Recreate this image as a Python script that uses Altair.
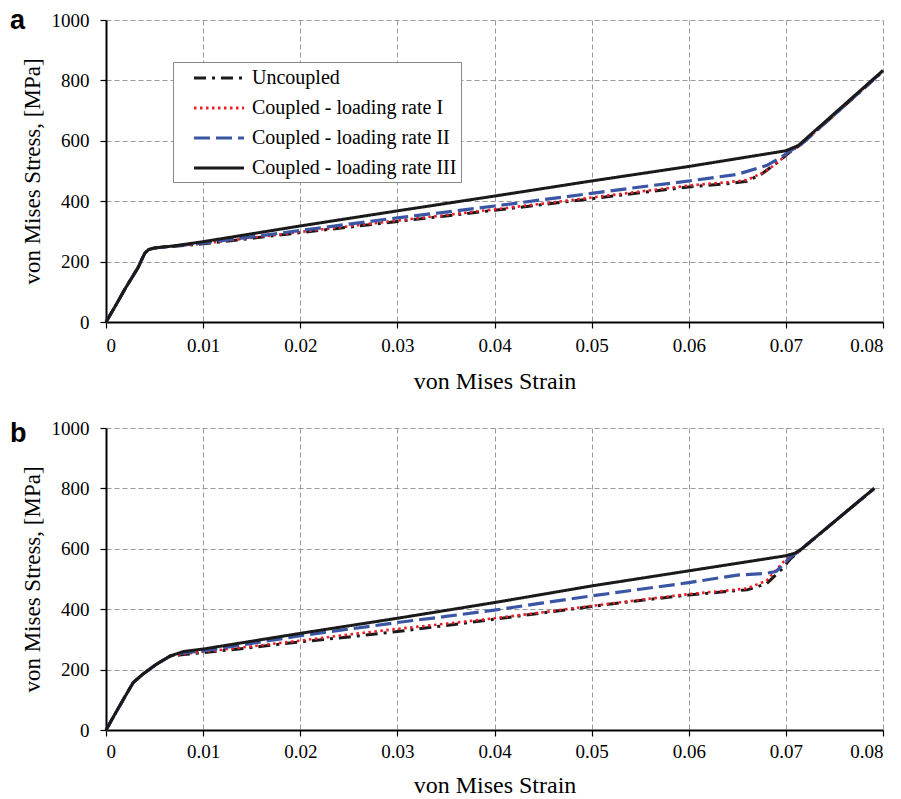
import altair as alt
import pandas as pd

SERIES = ["Uncoupled", "Coupled - loading rate I", "Coupled - loading rate II", "Coupled - loading rate III"]
COLORS = ["#1a1a1a", "#ee1c25", "#3a55a4", "#1a1a1a"]
DASHES = [[12, 6, 3, 6], [2.5, 3.5], [16, 6], [1, 0]]
WIDTHS = [3, 2.6, 3.2, 3]

X_TICKS = [0, 0.01, 0.02, 0.03, 0.04, 0.05, 0.06, 0.07, 0.08]
Y_TICKS = [0, 200, 400, 600, 800, 1000]

# ---- panel a ----
a_start_x = [0, 0.001, 0.002, 0.0033, 0.0037, 0.0040, 0.0044, 0.0050, 0.0058]
a_start_y = [0, 55, 112, 180, 208, 228, 240, 245, 248]

a_unc_x = [0.008, 0.010, 0.015, 0.020, 0.025, 0.030, 0.035, 0.040, 0.045, 0.050, 0.055, 0.060, 0.064, 0.066, 0.0675, 0.069, 0.0705, 0.0715, 0.080]
a_unc_y = [253, 259, 277, 296, 314, 333, 351, 370, 389, 408, 428, 447, 458, 466, 490, 525, 565, 586, 830]

a_r1_x = [0.008, 0.010, 0.015, 0.020, 0.025, 0.030, 0.035, 0.040, 0.045, 0.050, 0.055, 0.060, 0.064, 0.066, 0.068, 0.0695, 0.0705, 0.0715, 0.080]
a_r1_y = [254, 260, 279, 298, 317, 336, 354, 373, 392, 412, 432, 452, 463, 470, 500, 538, 566, 586, 831]

a_r2_x = [0.008, 0.010, 0.015, 0.020, 0.025, 0.030, 0.035, 0.040, 0.045, 0.050, 0.055, 0.060, 0.065, 0.068, 0.0695, 0.0705, 0.0715, 0.080]
a_r2_y = [255, 262, 282, 303, 324, 345, 364, 384, 405, 426, 447, 467, 489, 518, 545, 568, 586, 831]

a_r3_x = [0.007, 0.010, 0.020, 0.030, 0.040, 0.050, 0.060, 0.070, 0.0713, 0.080]
a_r3_y = [252, 266, 318, 368, 417, 467, 515, 567, 585, 833]

# ---- panel b ----
b_start_x = [0, 0.001, 0.0018, 0.0028, 0.0038, 0.0052, 0.0066]
b_start_y = [0, 57, 102, 157, 185, 218, 245]

b_unc_x = [0.008, 0.010, 0.015, 0.020, 0.025, 0.030, 0.035, 0.040, 0.045, 0.050, 0.055, 0.060, 0.064, 0.066, 0.068, 0.0695, 0.0705, 0.0712, 0.0716, 0.0791]
b_unc_y = [250, 256, 273, 292, 308, 326, 346, 367, 388, 409, 429, 447, 459, 464, 484, 530, 568, 586, 599, 800]

b_r1_x = [0.008, 0.010, 0.015, 0.020, 0.025, 0.030, 0.035, 0.040, 0.045, 0.050, 0.055, 0.060, 0.064, 0.066, 0.068, 0.070, 0.0712, 0.0716, 0.0791]
b_r1_y = [252, 259, 277, 296, 316, 335, 352, 370, 390, 411, 431, 450, 462, 469, 494, 566, 587, 599, 800]

b_r2_x = [0.008, 0.010, 0.015, 0.020, 0.025, 0.030, 0.035, 0.040, 0.045, 0.050, 0.055, 0.060, 0.065, 0.068, 0.069, 0.0705, 0.0712, 0.0716, 0.0791]
b_r2_y = [256, 262, 287, 312, 334, 356, 376, 397, 421, 444, 466, 488, 513, 519, 525, 574, 588, 599, 800]

b_r3_x = [0.008, 0.010, 0.020, 0.030, 0.040, 0.050, 0.060, 0.070, 0.0709, 0.0716, 0.0791]
b_r3_y = [260, 268, 320, 370, 422, 477, 527, 577, 585, 599, 800]


def build_df(start_x, start_y, series_xy):
    rows = []
    for name, (xs, ys) in zip(SERIES, series_xy):
        allx = list(start_x) + list(xs)
        ally = list(start_y) + list(ys)
        for i, (xv, yv) in enumerate(zip(allx, ally)):
            rows.append({"series": name, "strain": xv, "stress": yv, "idx": i})
    return pd.DataFrame(rows)


df_a = build_df(a_start_x, a_start_y, [(a_unc_x, a_unc_y), (a_r1_x, a_r1_y), (a_r2_x, a_r2_y), (a_r3_x, a_r3_y)])
df_b = build_df(b_start_x, b_start_y, [(b_unc_x, b_unc_y), (b_r1_x, b_r1_y), (b_r2_x, b_r2_y), (b_r3_x, b_r3_y)])

SERIF = "Liberation Serif"


def panel(df, letter, letter_y, lab_pad, title_pad):
    legend = alt.Legend(
        title=None, orient="none", legendX=67, legendY=42,
        symbolType="M-2.5,0H2.5", symbolSize=400, symbolStrokeWidth=3.2,
        labelFont=SERIF, labelFontSize=20, labelColor="black", labelLimit=500,
        labelExpr="datum.label + '\u00a0\u00a0'",
        strokeColor="#8a8a8a", fillColor="white", padding=4, rowPadding=8,
        symbolOffset=30, labelOffset=21, cornerRadius=0,
    )
    x = alt.X("strain:Q", scale=alt.Scale(domain=[0, 0.08], nice=False),
              axis=alt.Axis(values=X_TICKS, labelExpr="datum.value == 0 ? '0' : format(datum.value, '.2f')",
                            labelFont=SERIF, labelFontSize=19,
                            title="von Mises Strain", titleFontSize=24,
                            labelPadding=lab_pad, titlePadding=title_pad))
    y = alt.Y("stress:Q", scale=alt.Scale(domain=[0, 1000], nice=False),
              axis=alt.Axis(values=Y_TICKS, format="d", labelFont=SERIF, labelFontSize=19,
                            title="von Mises Stress, [MPa]", titleFontSize=23,
                            labelPadding=11, titlePadding=7))
    color = alt.Color("series:N", scale=alt.Scale(domain=SERIES, range=COLORS), legend=legend)
    dash = alt.StrokeDash("series:N", scale=alt.Scale(domain=SERIES, range=DASHES), legend=legend)
    layers = []
    for s, w in zip(SERIES, WIDTHS):
        layers.append(
            alt.Chart(df).transform_filter(alt.datum.series == s)
            .mark_line(strokeWidth=w, strokeJoin="round")
            .encode(x=x, y=y, color=color, strokeDash=dash, order="idx:Q")
        )
    lab = alt.Chart(pd.DataFrame({"t": [letter]})).mark_text(
        font="Liberation Sans", fontSize=27, fontWeight="bold", align="left",
        baseline="alphabetic", color="black"
    ).encode(text="t:N", x=alt.value(-96), y=alt.value(letter_y))
    return alt.layer(*layers, lab).properties(width=777, height=302)


top = panel(df_a, "a", 9, 8, 14)
bottom = panel(df_b, "b", 14, 6, 12)

chart = alt.vconcat(top, bottom, spacing=26).properties(
    padding={"left": 10, "top": 7, "right": 0, "bottom": 0}
).configure_view(strokeWidth=0).configure_axis(
    domainColor="black", domainWidth=2, tickColor="black", tickSize=6, tickWidth=1.2,
    gridColor="#9a9a9a", gridDash=[5, 3], gridWidth=1,
    labelFont=SERIF, labelFontSize=19, labelColor="black",
    titleFont=SERIF, titleFontSize=23, titleFontWeight="normal", titleColor="black",
)

chart.save("out.html", embed_options={"renderer": "svg", "actions": False})
